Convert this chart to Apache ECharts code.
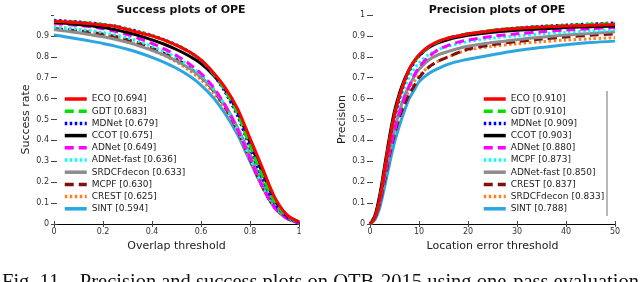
<!DOCTYPE html>
<html>
<head>
<meta charset="utf-8">
<script src="https://cdn.jsdelivr.net/npm/echarts@6/dist/echarts.min.js"></script>
<style>html,body{margin:0;padding:0;background:#fff;}#c{width:640px;height:282px;}</style>
</head>
<body>
<div id="c"></div>
<script>
// ---- Data ----
var succX = [0,0.05,0.1,0.15,0.2,0.25,0.3,0.35,0.4,0.45,0.5,0.55,0.6,0.65,0.7,0.75,0.8,0.85,0.9,0.95,1];
var succTrackers = ['ECO','GDT','MDNet','CCOT','ADNet','ADNet-fast','SRDCFdecon','MCPF','CREST','SINT'];
var succScores = ['0.694','0.683','0.679','0.675','0.649','0.636','0.633','0.630','0.625','0.594'];
var succECO = [0.970,0.967,0.963,0.958,0.952,0.945,0.930,0.915,0.900,0.880,0.855,0.825,0.785,0.725,0.650,0.550,0.410,0.270,0.130,0.045,0.010];
var succGDT = [0.970,0.968,0.965,0.960,0.954,0.946,0.932,0.917,0.900,0.880,0.856,0.825,0.785,0.720,0.635,0.525,0.375,0.230,0.105,0.040,0.010];
var succMDNet = [0.975,0.971,0.967,0.962,0.955,0.947,0.934,0.919,0.902,0.882,0.857,0.826,0.782,0.716,0.628,0.515,0.365,0.220,0.100,0.035,0.008];
var succCCOT = [0.965,0.960,0.955,0.948,0.940,0.930,0.916,0.900,0.881,0.860,0.835,0.805,0.768,0.713,0.640,0.535,0.390,0.248,0.118,0.040,0.010];
var succADNet = [0.960,0.955,0.950,0.944,0.934,0.922,0.906,0.886,0.864,0.838,0.806,0.768,0.720,0.655,0.565,0.450,0.315,0.180,0.080,0.028,0.005];
var succADNetFast = [0.942,0.937,0.932,0.925,0.916,0.905,0.890,0.872,0.850,0.826,0.797,0.760,0.714,0.650,0.563,0.450,0.315,0.185,0.085,0.030,0.005];
var succSRDCFdecon = [0.930,0.923,0.915,0.906,0.896,0.884,0.869,0.851,0.831,0.808,0.780,0.746,0.703,0.644,0.565,0.460,0.330,0.200,0.090,0.032,0.006];
var succMCPF = [0.935,0.930,0.924,0.917,0.908,0.897,0.882,0.864,0.842,0.817,0.788,0.750,0.703,0.640,0.555,0.445,0.310,0.180,0.080,0.028,0.005];
var succCREST = [0.945,0.938,0.930,0.920,0.908,0.894,0.876,0.855,0.832,0.806,0.775,0.737,0.690,0.628,0.548,0.440,0.305,0.178,0.078,0.027,0.005];
var succSINT = [0.905,0.895,0.885,0.875,0.864,0.851,0.836,0.818,0.797,0.773,0.745,0.710,0.665,0.605,0.525,0.425,0.300,0.180,0.080,0.028,0.005];

var precX = [0,1,2,3,4,5,6,7,8,9,10,12,14,16,18,20,25,30,35,40,45,50];
var precTrackers = ['ECO','GDT','MDNet','CCOT','ADNet','MCPF','ADNet-fast','CREST','SRDCFdecon','SINT'];
var precScores = ['0.910','0.910','0.909','0.903','0.880','0.873','0.850','0.837','0.833','0.788'];
var precECO = [0,0.03,0.12,0.26,0.40,0.52,0.61,0.68,0.74,0.78,0.81,0.85,0.875,0.89,0.90,0.91,0.925,0.935,0.942,0.947,0.951,0.955];
var precGDT = [0,0.03,0.12,0.26,0.40,0.52,0.61,0.68,0.735,0.775,0.805,0.848,0.873,0.89,0.901,0.91,0.927,0.938,0.945,0.95,0.955,0.96];
var precMDNet = [0,0.03,0.11,0.25,0.39,0.51,0.60,0.675,0.73,0.772,0.803,0.846,0.872,0.889,0.9,0.909,0.926,0.938,0.946,0.952,0.957,0.962];
var precCCOT = [0,0.04,0.14,0.28,0.42,0.54,0.625,0.69,0.74,0.778,0.806,0.845,0.868,0.883,0.894,0.903,0.917,0.927,0.934,0.94,0.944,0.947];
var precADNet = [0,0.03,0.11,0.23,0.35,0.45,0.53,0.60,0.66,0.71,0.75,0.80,0.835,0.855,0.87,0.88,0.898,0.91,0.92,0.928,0.935,0.94];
var precMCPF = [0,0.04,0.13,0.26,0.38,0.49,0.58,0.65,0.70,0.74,0.77,0.81,0.835,0.85,0.863,0.873,0.89,0.90,0.91,0.917,0.923,0.928];
var precADNetFast = [0,0.03,0.11,0.23,0.35,0.45,0.54,0.61,0.66,0.705,0.74,0.785,0.81,0.826,0.84,0.85,0.868,0.882,0.894,0.904,0.912,0.92];
var precCREST = [0,0.03,0.10,0.21,0.33,0.43,0.51,0.57,0.62,0.66,0.70,0.75,0.78,0.80,0.82,0.837,0.858,0.873,0.885,0.895,0.903,0.91];
var precSRDCFdecon = [0,0.04,0.12,0.24,0.35,0.45,0.53,0.59,0.64,0.68,0.71,0.752,0.78,0.80,0.818,0.833,0.85,0.862,0.872,0.88,0.886,0.892];
var precSINT = [0,0.02,0.08,0.18,0.29,0.39,0.47,0.54,0.60,0.64,0.68,0.72,0.745,0.765,0.778,0.788,0.81,0.83,0.845,0.858,0.868,0.875];

var succTicks = ['0','0.2','0.4','0.6','0.8','1'];
var precTicks = ['0','10','20','30','40','50'];
var yTicks = ['0','0.1','0.2','0.3','0.4','0.5','0.6','0.7','0.8','0.9','1'];

// ---- Styles by rank ----
var rankColors = ['#ff0000','#00e000','#0000ff','#000000','#ff00ff','#00ffff','#8c8c8c','#7f1010','#ff7f27','#2ba6e0'];
var rankTypes = ['solid',[9,5],[2.5,2.5],'solid',[9,5],[2.5,2.5],'solid',[9,5],[2.5,2.5],'solid'];

var succValues = [succECO,succGDT,succMDNet,succCCOT,succADNet,succADNetFast,succSRDCFdecon,succMCPF,succCREST,succSINT];
var precValues = [precECO,precGDT,precMDNet,precCCOT,precADNet,precMCPF,precADNetFast,precCREST,precSRDCFdecon,precSINT];

var succNames = succTrackers.map(function(t,i){return t+' ['+succScores[i]+']';});
var precNames = precTrackers.map(function(t,i){return t+' ['+precScores[i]+']';});

var series = [];
for (var r = 9; r >= 0; r--) {
  series.push({
    name: succNames[r], type: 'line', xAxisIndex: 0, yAxisIndex: 0,
    data: succX.map(function(x,i){return [x, succValues[r][i]];}),
    showSymbol: false, symbol: 'none', smooth: 0.3, z: 10 - r,
    lineStyle: {color: rankColors[r], width: 3, type: rankTypes[r], cap: 'butt'},
    itemStyle: {color: rankColors[r]}
  });
  series.push({
    name: precNames[r], type: 'line', xAxisIndex: 2, yAxisIndex: 2,
    data: precX.map(function(x,i){return [x, precValues[r][i]];}),
    showSymbol: false, symbol: 'none', smooth: 0.3, z: 10 - r,
    lineStyle: {color: rankColors[r], width: 3, type: rankTypes[r], cap: 'butt'},
    itemStyle: {color: rankColors[r]}
  });
}

var FONT = 'DejaVu Sans';
var labelStyle = {fontFamily: FONT, fontSize: 8, color: '#333'};

function xAxes(grid, max, interval, ticks, name) {
  return [{
    type: 'value', gridIndex: grid, min: 0, max: max, interval: interval, position: 'bottom',
    axisLine: {show: false}, splitLine: {show: false},
    axisTick: {show: true, inside: true, length: 3, lineStyle: {color: '#444'}},
    axisLabel: Object.assign({margin: 4, formatter: function(v){ var i = Math.round(v/interval); return ticks[i]; }}, labelStyle),
    name: name, nameLocation: 'middle', nameGap: 15,
    nameTextStyle: {fontFamily: FONT, fontSize: 11, color: '#222'}
  }, {
    type: 'value', gridIndex: grid, min: 0, max: max, interval: interval, position: 'top',
    axisLine: {show: true, lineStyle: {color: '#000', width: 1}}, splitLine: {show: false},
    axisTick: {show: true, inside: true, length: 3, lineStyle: {color: '#444'}},
    axisLabel: {show: false}
  }];
}
function yAxes(grid, name, showMax) {
  return [{
    type: 'value', gridIndex: grid, min: 0, max: 1, interval: 0.1, position: 'left',
    axisLine: {show: false}, splitLine: {show: false},
    axisTick: {show: true, inside: true, length: 3, lineStyle: {color: '#444'}},
    axisLabel: Object.assign({margin: 5, showMaxLabel: showMax, formatter: function(v){ return yTicks[Math.round(v*10)]; }}, labelStyle),
    name: name, nameLocation: 'middle', nameGap: 22,
    nameTextStyle: {fontFamily: FONT, fontSize: 11, color: '#222'}
  }, {
    type: 'value', gridIndex: grid, min: 0, max: 1, interval: 0.1, position: 'right',
    axisLine: {show: false}, splitLine: {show: false},
    axisTick: {show: true, inside: true, length: 3, lineStyle: {color: '#444'}},
    axisLabel: {show: false}
  }];
}

var legendCommon = {
  orient: 'vertical', itemWidth: 22, itemHeight: 12, itemGap: 0.2,
  padding: 0, selectedMode: false,
  itemStyle: {opacity: 0, borderWidth: 0},
  lineStyle: {width: 3.5},
  textStyle: {fontFamily: FONT, fontSize: 9, color: '#222', lineHeight: 12}
};

var option = {
  backgroundColor: '#fff',
  animation: false,
  title: [
    {text: 'Success plots of OPE', left: 176, top: 0, textAlign: 'center',
     textStyle: {fontFamily: FONT, fontSize: 11, fontWeight: 'bold', color: '#111'}},
    {text: 'Precision plots of OPE', left: 492, top: 0, textAlign: 'center',
     textStyle: {fontFamily: FONT, fontSize: 11, fontWeight: 'bold', color: '#111'}}
  ],
  grid: [
    {left: 54, right: 341, top: 15, bottom: 58},
    {left: 370, right: 25, top: 15, bottom: 58}
  ],
  xAxis: xAxes(0, 1, 0.2, succTicks, 'Overlap threshold').concat(xAxes(1, 50, 10, precTicks, 'Location error threshold')),
  yAxis: yAxes(0, 'Success rate', false).concat(yAxes(1, 'Precision', true)),
  legend: [
    Object.assign({}, legendCommon, {data: succNames, left: 63, top: 93}),
    Object.assign({}, legendCommon, {data: precNames, left: 482, top: 93})
  ],
  series: series,
  graphic: [
    {type: 'line', shape: {x1: 607, y1: 91, x2: 607, y2: 216}, style: {stroke: '#888', lineWidth: 1.2}, silent: true},
    {type: 'text', left: 2, top: 272, style: {text: 'Fig. 11.   Precision and success plots on OTB-2015 using one-pass evaluation', font: '20.5px "Liberation Serif", serif', fill: '#111'}, silent: true}
  ]
};

var chart = echarts.init(document.getElementById('c'), null, {renderer: 'canvas'});
chart.setOption(option);
</script>
</body>
</html>
